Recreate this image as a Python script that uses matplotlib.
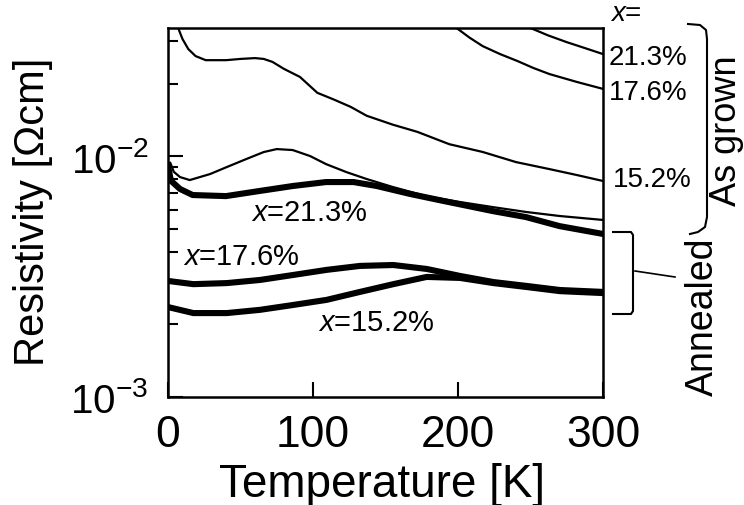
"""Resistivity vs temperature, as grown / annealed samples."""
import matplotlib
matplotlib.use("Agg")
import matplotlib.pyplot as plt
from matplotlib.ticker import LogLocator, NullFormatter, FixedLocator

plt.rcParams["font.family"] = ["Liberation Sans", "DejaVu Sans"]
plt.rcParams["mathtext.fontset"] = "custom"
plt.rcParams["mathtext.rm"] = "Liberation Sans"
plt.rcParams["mathtext.it"] = "Liberation Sans:italic"

# as grown (thin lines), resistivity in 1e-3 Ohm cm
t_ag213 = [235, 250, 262, 275, 288, 300]
r_ag213 = [38.0, 34.0, 31.7, 29.7, 28.0, 26.5]

t_ag176 = [185, 199, 208, 217, 229, 241, 252, 263, 282, 300]
r_ag176 = [39.0, 34.0, 31.0, 28.6, 26.5, 24.8, 23.2, 21.9, 20.3, 19.0]

t_ag152 = [5, 7, 10, 14, 19, 26, 40, 50, 60, 66, 72, 80, 91, 103, 114, 126,
           137, 155, 172, 194, 217, 240, 263, 282, 300]
r_ag152 = [35.6, 34.0, 30.6, 27.8, 26.0, 25.0, 25.0, 25.3, 25.5, 25.3, 24.6,
           23.0, 21.3, 18.3, 17.2, 16.0, 14.7, 13.5, 12.6, 11.2, 10.4, 9.44,
           8.83, 8.34, 7.88]

t_ag_bump = [0.5, 1.5, 4, 8.3, 15, 29, 40.5, 54, 66, 75, 86, 98, 109, 123,
             137, 155, 178, 201, 224, 247, 270, 300]
r_ag_bump = [8.6, 9.4, 8.6, 8.18, 7.95, 8.42, 9.00, 9.72, 10.39, 10.69, 10.59,
             10.0, 9.26, 8.58, 8.03, 7.44, 6.82, 6.45, 6.14, 5.86, 5.64, 5.43]

# annealed (thick lines)
t_an213 = [0.2, 2, 8.3, 17, 40, 63, 86, 109, 128, 144, 167, 190, 224, 247, 270, 300]
r_an213 = [9.0, 7.9, 7.30, 6.89, 6.82, 7.16, 7.51, 7.80, 7.80, 7.51, 6.96, 6.51,
           5.91, 5.58, 5.12, 4.75]

t_an176 = [0.3, 17.5, 40.5, 63.4, 86.4, 109.4, 132.4, 155.4, 178.4, 201.4,
           224.4, 247.4, 270.3, 300]
r_an176 = [3.03, 2.94, 2.97, 3.06, 3.21, 3.37, 3.50, 3.53, 3.40, 3.18, 3.00,
           2.89, 2.78, 2.73]

t_an152 = [0.3, 17.5, 40.5, 63.4, 86.4, 109.4, 132.4, 155.4, 178.4, 201.4,
           224.4, 247.4, 270.3, 300]
r_an152 = [2.36, 2.23, 2.23, 2.30, 2.41, 2.53, 2.73, 2.94, 3.15, 3.12, 2.97,
           2.86, 2.75, 2.70]

x_ticks = [0, 100, 200, 300]
y_ticks = [1e-3, 1e-2]
y_ticklabels = ["$10^{-3}$", "$10^{-2}$"]


def scale(vals):
    return [v * 1e-3 for v in vals]


fig = plt.figure(figsize=(7.44, 5.06), dpi=100)
W, H = 744, 506
ax = fig.add_axes([168 / W, 1 - 398 / H, 435 / W, 369 / H])

thin = dict(color="black", lw=1.6, solid_joinstyle="round")
thick = dict(color="black", lw=4.4, solid_joinstyle="round")
for t, r in [(t_ag213, r_ag213), (t_ag176, r_ag176), (t_ag152, r_ag152),
             (t_ag_bump, r_ag_bump)]:
    ax.plot(t, scale(r), **thin)
for t, r in [(t_an213, r_an213), (t_an176, r_an176), (t_an152, r_an152)]:
    ax.plot(t, scale(r), **thick)

ax.set_yscale("log")
ax.set_xlim(0, 300)
ax.set_ylim(1e-3, 0.0340)
ax.xaxis.set_major_locator(FixedLocator(x_ticks))
ax.set_xticklabels([str(v) for v in x_ticks])
ax.set_yticks(y_ticks)
ax.set_yticklabels(y_ticklabels)
ax.yaxis.set_minor_locator(LogLocator(base=10, subs=range(2, 10)))
ax.yaxis.set_minor_formatter(NullFormatter())
ax.tick_params(which="both", direction="in", top=False, right=False, width=1.5)
ax.tick_params(which="major", length=11)
ax.tick_params(which="minor", length=7)
ax.tick_params(axis="x", labelsize=32, pad=12)
ax.tick_params(axis="y", labelsize=29, pad=14)
for s in ax.spines.values():
    s.set_linewidth(1.8)

# overlay in pixel coordinates for labels and brackets
ov = fig.add_axes([0, 0, 1, 1], facecolor="none")
ov.set_xlim(0, W)
ov.set_ylim(H, 0)
ov.axis("off")

ov.text(382, 485, "Temperature [K]", fontsize=33, ha="center", va="center")
ov.text(33, 212, "Resistivity [\u03a9cm]", fontsize=30, rotation=90,
        ha="center", va="center")

ov.text(309, 213, "$x$=21.3%", fontsize=21, ha="center", va="center")
ov.text(241, 257, "$x$=17.6%", fontsize=21, ha="center", va="center")
ov.text(376, 323, "$x$=15.2%", fontsize=21, ha="center", va="center")

ov.text(626, 14, "$x$=", fontsize=20, ha="center", va="center")
ov.text(648, 58, "21.3%", fontsize=20, ha="center", va="center")
ov.text(648, 93, "17.6%", fontsize=20, ha="center", va="center")
ov.text(652, 180, "15.2%", fontsize=20, ha="center", va="center")

ov.text(727, 131, "As grown", fontsize=26, rotation=90, ha="center", va="center")
ov.text(703, 317, "Annealed", fontsize=27, rotation=90, ha="center", va="center")

# brackets
ov.plot([688, 700, 706, 707, 707, 705, 698, 690],
        [25, 26, 31, 40, 218, 228, 233, 235], color="black", lw=1.5)
ov.plot([613, 631, 633, 633, 631, 613],
        [233, 233, 236, 312, 315, 315], color="black", lw=1.5)
ov.plot([635, 675], [272, 278], color="black", lw=1.2)

fig.savefig("out.png", dpi=100)
